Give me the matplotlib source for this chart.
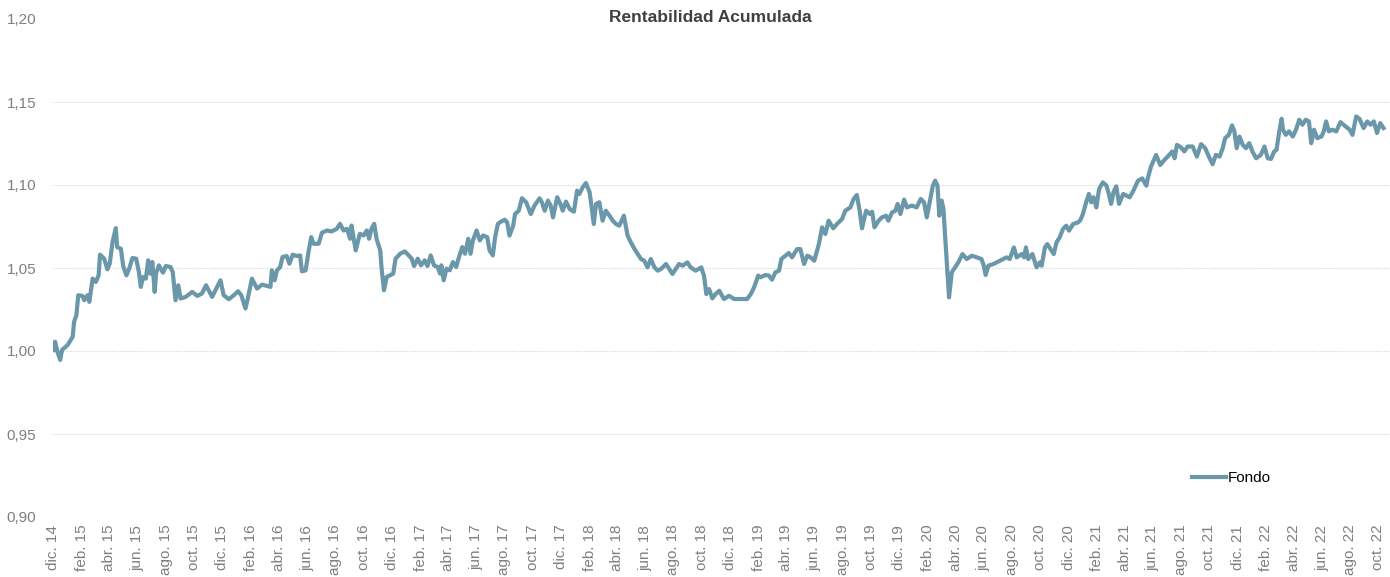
import matplotlib
matplotlib.use("Agg")
import matplotlib.pyplot as plt
import matplotlib.dates as mdates
from matplotlib.ticker import FuncFormatter, FixedLocator
import pandas as pd

plt.rcParams['font.family'] = ['Liberation Sans', 'DejaVu Sans']

title = "Rentabilidad Acumulada"
series_name = "Fondo"
start_date = "2014-12-01"
end_date = "2022-10-26"
y_ticks = [0.90, 0.95, 1.00, 1.05, 1.10, 1.15, 1.20]
month_abbr = ["ene.", "feb.", "mar.", "abr.", "may.", "jun.",
              "jul.", "ago.", "sep.", "oct.", "nov.", "dic."]

# days elapsed since start_date
days = [0, 4, 9, 15, 19, 31, 42, 45, 50, 54, 63, 67, 74, 78, 85, 92, 98, 101, 110, 117,
        122, 128, 135, 138, 146, 151, 158, 164, 171, 179, 185, 189, 194, 200, 205, 210, 214, 219, 222, 228,
        237, 243, 253, 258, 264, 270, 275, 286, 300, 311, 321, 330, 343, 352, 361, 368, 379, 390, 399, 406,
        415, 420, 429, 440, 451, 469, 472, 478, 483, 490, 495, 504, 510, 517, 526, 533, 537, 545, 551, 557,
        562, 573, 580, 591, 601, 612, 619, 627, 634, 641, 644, 653, 662, 670, 677, 682, 687, 693, 698, 706,
        709, 714, 720, 727, 734, 739, 749, 759, 766, 774, 779, 787, 794, 802, 808, 815, 822, 830, 835, 838,
        843, 849, 856, 863, 870, 876, 883, 889, 896, 901, 906, 914, 921, 928, 937, 942, 949, 954, 960, 967,
        975, 980, 985, 993, 997, 1005, 1012, 1021, 1031, 1039, 1050, 1055, 1061, 1068, 1074, 1079, 1088, 1095, 1100, 1107,
        1115, 1124, 1131, 1136, 1143, 1150, 1158, 1161, 1167, 1172, 1179, 1186, 1193, 1201, 1208, 1215, 1222, 1232, 1240, 1247,
        1255, 1262, 1269, 1276, 1283, 1290, 1298, 1305, 1312, 1323, 1330, 1337, 1344, 1351, 1359, 1369, 1376, 1387, 1399, 1405,
        1410, 1416, 1423, 1430, 1438, 1448, 1459, 1470, 1484, 1498, 1506, 1513, 1522, 1527, 1538, 1545, 1552, 1559, 1567, 1572,
        1581, 1588, 1595, 1606, 1613, 1621, 1628, 1635, 1643, 1653, 1660, 1667, 1674, 1684, 1692, 1703, 1710, 1721, 1728, 1735,
        1741, 1746, 1755, 1763, 1768, 1773, 1782, 1789, 1798, 1803, 1811, 1818, 1823, 1829, 1837, 1843, 1854, 1864, 1873, 1880,
        1886, 1893, 1899, 1904, 1909, 1913, 1918, 1922, 1925, 1929, 1934, 1940, 1947, 1954, 1963, 1972, 1983, 1994, 2004, 2009,
        2013, 2019, 2030, 2044, 2058, 2065, 2074, 2080, 2091, 2096, 2100, 2105, 2114, 2123, 2130, 2134, 2141, 2146, 2153, 2160,
        2166, 2173, 2180, 2187, 2193, 2202, 2213, 2218, 2223, 2230, 2236, 2241, 2246, 2252, 2258, 2266, 2274, 2279, 2284, 2289,
        2295, 2301, 2310, 2317, 2324, 2332, 2342, 2351, 2360, 2363, 2370, 2381, 2390, 2399, 2406, 2416, 2421, 2426, 2435, 2442,
        2449, 2460, 2469, 2478, 2487, 2495, 2503, 2510, 2518, 2525, 2530, 2538, 2545, 2550, 2555, 2561, 2568, 2575, 2582, 2589,
        2597, 2607, 2615, 2622, 2629, 2636, 2641, 2647, 2652, 2655, 2661, 2668, 2676, 2683, 2690, 2697, 2704, 2711, 2716, 2722,
        2729, 2738, 2743, 2748, 2754, 2761, 2770, 2779, 2790, 2799, 2805, 2813, 2820, 2829, 2837, 2844, 2851, 2858, 2865, 2872]

fondo = [1.0006, 1.0056, 0.9996, 0.9946, 1.0006, 1.0036, 1.0086, 1.0176, 1.0216, 1.0336, 1.0332, 1.0306, 1.0336, 1.0296, 1.0436, 1.0416, 1.0456, 1.0580, 1.0556, 1.0492,
         1.0526, 1.0656, 1.0740, 1.0626, 1.0616, 1.0512, 1.0456, 1.0496, 1.0560, 1.0556, 1.0476, 1.0386, 1.0446, 1.0436, 1.0546, 1.0466, 1.0536, 1.0356, 1.0466, 1.0516,
         1.0472, 1.0512, 1.0506, 1.0476, 1.0306, 1.0396, 1.0316, 1.0326, 1.0356, 1.0332, 1.0346, 1.0396, 1.0326, 1.0376, 1.0426, 1.0336, 1.0312, 1.0336, 1.0360, 1.0336,
         1.0256, 1.0316, 1.0436, 1.0376, 1.0400, 1.0386, 1.0486, 1.0426, 1.0486, 1.0506, 1.0566, 1.0572, 1.0526, 1.0580, 1.0572, 1.0576, 1.0480, 1.0486, 1.0596, 1.0686,
         1.0646, 1.0646, 1.0712, 1.0726, 1.0720, 1.0736, 1.0766, 1.0726, 1.0736, 1.0676, 1.0756, 1.0606, 1.0706, 1.0696, 1.0726, 1.0676, 1.0736, 1.0766, 1.0676, 1.0606,
         1.0496, 1.0366, 1.0446, 1.0456, 1.0466, 1.0556, 1.0586, 1.0600, 1.0580, 1.0556, 1.0512, 1.0556, 1.0516, 1.0546, 1.0512, 1.0576, 1.0516, 1.0506, 1.0466, 1.0516,
         1.0426, 1.0496, 1.0486, 1.0536, 1.0506, 1.0566, 1.0626, 1.0586, 1.0676, 1.0586, 1.0666, 1.0726, 1.0666, 1.0696, 1.0686, 1.0606, 1.0576, 1.0686, 1.0766, 1.0780,
         1.0791, 1.0775, 1.0695, 1.0755, 1.0825, 1.0845, 1.0920, 1.0896, 1.0825, 1.0876, 1.0920, 1.0896, 1.0845, 1.0906, 1.0876, 1.0805, 1.0926, 1.0886, 1.0845, 1.0900,
         1.0855, 1.0839, 1.0966, 1.0946, 1.0986, 1.1012, 1.0956, 1.0896, 1.0765, 1.0886, 1.0896, 1.0785, 1.0845, 1.0815, 1.0785, 1.0765, 1.0755, 1.0815, 1.0695, 1.0655,
         1.0614, 1.0584, 1.0554, 1.0544, 1.0504, 1.0554, 1.0504, 1.0484, 1.0494, 1.0524, 1.0494, 1.0464, 1.0494, 1.0524, 1.0514, 1.0534, 1.0504, 1.0484, 1.0504, 1.0454,
         1.0343, 1.0373, 1.0317, 1.0343, 1.0363, 1.0313, 1.0333, 1.0313, 1.0313, 1.0313, 1.0343, 1.0383, 1.0454, 1.0444, 1.0458, 1.0454, 1.0430, 1.0474, 1.0484, 1.0554,
         1.0574, 1.0590, 1.0564, 1.0614, 1.0614, 1.0524, 1.0574, 1.0564, 1.0544, 1.0644, 1.0745, 1.0705, 1.0785, 1.0739, 1.0765, 1.0795, 1.0845, 1.0865, 1.0916, 1.0940,
         1.0845, 1.0739, 1.0845, 1.0825, 1.0839, 1.0745, 1.0785, 1.0805, 1.0815, 1.0785, 1.0835, 1.0845, 1.0886, 1.0825, 1.0912, 1.0865, 1.0876, 1.0865, 1.0916, 1.0896,
         1.0805, 1.0906, 1.0996, 1.1026, 1.0996, 1.0815, 1.0906, 1.0855, 1.0715, 1.0544, 1.0323, 1.0474, 1.0504, 1.0534, 1.0584, 1.0554, 1.0574, 1.0564, 1.0554, 1.0514,
         1.0458, 1.0514, 1.0524, 1.0544, 1.0564, 1.0554, 1.0624, 1.0564, 1.0584, 1.0564, 1.0624, 1.0554, 1.0584, 1.0504, 1.0534, 1.0514, 1.0624, 1.0644, 1.0614, 1.0584,
         1.0654, 1.0685, 1.0735, 1.0755, 1.0725, 1.0765, 1.0775, 1.0791, 1.0825, 1.0896, 1.0946, 1.0896, 1.0926, 1.0865, 1.0976, 1.1016, 1.0996, 1.0946, 1.0886, 1.0956,
         1.0992, 1.0886, 1.0946, 1.0936, 1.0926, 1.0966, 1.1026, 1.1040, 1.0996, 1.1040, 1.1111, 1.1181, 1.1121, 1.1151, 1.1171, 1.1202, 1.1161, 1.1242, 1.1226, 1.1202,
         1.1232, 1.1232, 1.1171, 1.1246, 1.1222, 1.1171, 1.1125, 1.1181, 1.1171, 1.1222, 1.1282, 1.1302, 1.1359, 1.1323, 1.1222, 1.1292, 1.1242, 1.1222, 1.1252, 1.1202,
         1.1161, 1.1181, 1.1232, 1.1161, 1.1157, 1.1202, 1.1212, 1.1323, 1.1399, 1.1333, 1.1302, 1.1323, 1.1292, 1.1333, 1.1393, 1.1363, 1.1393, 1.1383, 1.1252, 1.1333,
         1.1282, 1.1292, 1.1323, 1.1383, 1.1323, 1.1333, 1.1323, 1.1379, 1.1353, 1.1333, 1.1302, 1.1413, 1.1399, 1.1343, 1.1383, 1.1363, 1.1383, 1.1313, 1.1373, 1.1343]

dates = pd.Timestamp(start_date) + pd.to_timedelta(days, unit="D")

W, H = 1390, 577
fig = plt.figure(figsize=(W / 100, H / 100), dpi=100)
ax = fig.add_axes([53 / W, 1 - 517 / H, (W - 53) / W, (517 - 19) / H])

line_color = "#6a97a9"
ax.plot(dates, fondo, color=line_color, lw=3.0, solid_joinstyle="round", label=series_name, zorder=3)

ax.set_ylim(y_ticks[0], y_ticks[-1])
ax.set_xlim(pd.Timestamp(start_date) - pd.Timedelta(days=0.5), pd.Timestamp(end_date))
ax.yaxis.set_major_locator(FixedLocator(y_ticks))
ax.yaxis.set_major_formatter(FuncFormatter(lambda v, p: f"{v:.2f}".replace(".", ",")))

for v in y_ticks[1:-1]:
    ax.axhline(v, color="#dddddd", lw=0.8, ls=(0, (1.5, 1)), zorder=1)

ax.xaxis.set_major_locator(mdates.MonthLocator(bymonth=(2, 4, 6, 8, 10, 12), bymonthday=1))
ax.xaxis.set_major_formatter(FuncFormatter(
    lambda x, p: f"{month_abbr[mdates.num2date(x).month - 1]} {mdates.num2date(x).year % 100:02d}"))

for s in ax.spines.values():
    s.set_visible(False)
ax.tick_params(axis="both", length=0, labelcolor="#7f7f7f")
ax.tick_params(axis="y", pad=12, labelsize=11)
ax.tick_params(axis="x", pad=5.5, labelsize=11)
for lab in ax.get_xticklabels():
    lab.set_rotation(90)
    lab.set_ha("center")
    lab.set_va("top")

fig.text(710 / W, 1 - 18 / H, title, ha="center", va="center", fontsize=12.5,
         fontweight="bold", color="#3b4145")

fig.legend(loc="center left", bbox_to_anchor=(1192 / W, 1 - 478 / H), frameon=False,
           fontsize=11, handlelength=2.2, handletextpad=0.15, borderpad=0, borderaxespad=0)

fig.savefig("out.png", dpi=100)
